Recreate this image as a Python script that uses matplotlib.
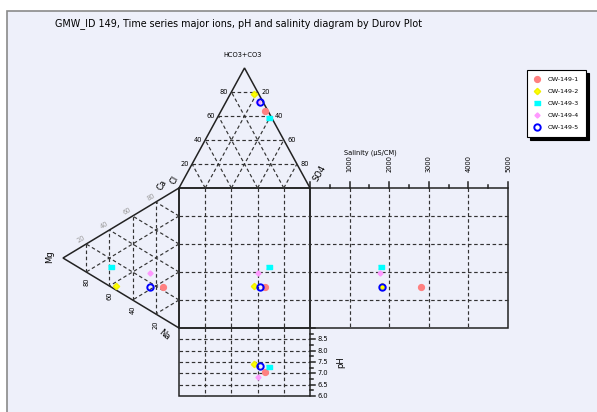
import matplotlib
matplotlib.use('Agg')
import matplotlib.pyplot as plt
from matplotlib.patches import Rectangle, Polygon

# sample data (percent of meq)
samples = ['OW-149-1', 'OW-149-2', 'OW-149-3', 'OW-149-4', 'OW-149-5']
hco3 = [64, 78, 58, 72, 72]
so4 = [34, 18, 40, 24, 26]
cl = [2, 4, 2, 4, 2]
mg = [14, 54, 59, 25, 25]
ca = [22, 3, 14, 27, 17]
na = [64, 43, 27, 48, 58]
salinity = [2800, 1830, 1800, 1780, 1818]
ph = [7.05, 7.40, 7.30, 6.85, 7.32]

sal_ticks = [1000, 2000, 3000, 4000, 5000]
ph_ticks = [6.0, 6.5, 7.0, 7.5, 8.0, 8.5]
pct_ticks = [20, 40, 60, 80]

# marker styles per sample
rect = [(-1.6, -1), (1.6, -1), (1.6, 1), (-1.6, 1)]
styles = [
    dict(marker='o', ms=4.2, mfc='#ff8080', mec='#ff8080'),
    dict(marker='D', ms=3.2, mfc='#ffff00', mec='#f0f000'),
    dict(marker=rect, ms=4.6, mfc='#00ffff', mec='#00ffff'),
    dict(marker='D', ms=2.6, mfc='#ff99ff', mec='#ff99ff'),
    dict(marker='o', ms=4.6, mfc='none', mec='#0000ff', mew=1.4),
]

# layout in pixels
X0, X1 = 179, 310        # central square
Y0, Y1 = 188, 328
APEX_Y = 68              # anion triangle apex
MG_X = 63                # cation triangle apex
XS = 508                 # salinity box right
YP = 396                 # pH box bottom
SAL_MAX = 5000
PH_MIN, PH_MAX = 6.0, 9.0
YM = (Y0 + Y1) / 2


def anion_xy(h, s, c):
    t = h + s + c
    h, s = h / t, s / t
    return X0 + (X1 - X0) * (s + h / 2), Y0 - (Y0 - APEX_Y) * h


def cation_xy(m, c, n):
    t = m + c + n
    m, c, n = m / t, c / t, n / t
    return X0 - (X0 - MG_X) * m, m * YM + c * Y0 + n * Y1


def sal_x(v):
    return X1 + (XS - X1) * v / SAL_MAX


def ph_y(v):
    return YP - (YP - Y1) * (v - PH_MIN) / (PH_MAX - PH_MIN)


fig = plt.figure(figsize=(5.97, 4.12), dpi=100)
fig.patch.set_facecolor('white')
ax = fig.add_axes([0, 0, 1, 1])
ax.set_xlim(0, 597)
ax.set_ylim(412, 0)
ax.axis('off')

ax.add_patch(Rectangle((7, 11), 620, 420, facecolor='#eef0fa', edgecolor='#8a8a8a', lw=1.2))

dash = dict(color='#333333', lw=0.85, ls=(0, (3, 2.2)))
solid = dict(color='#222222', lw=1.1)
fs = 4.8

# ---- anion triangle
for k in [0.2, 0.4, 0.6, 0.8]:
    for a, b in [((k, 0, 1 - k), (k, 1 - k, 0)),
                 ((0, k, 1 - k), (1 - k, k, 0)),
                 ((0, 1 - k, k), (1 - k, 0, k))]:
        p, q = anion_xy(*a), anion_xy(*b)
        ax.plot([p[0], q[0]], [p[1], q[1]], **dash)
tri = [anion_xy(1, 0, 0), anion_xy(0, 0, 1), anion_xy(0, 1, 0)]
ax.add_patch(Polygon(tri, closed=True, fill=False, **solid))
for v in pct_ticks:
    f = v / 100
    x, y = anion_xy(f, 0, 1 - f)
    ax.text(x - 3, y, str(v), fontsize=fs, ha='right', va='center')
    x, y = anion_xy(1 - f, f, 0)
    ax.text(x + 4, y, str(v), fontsize=fs, ha='left', va='center')
ax.text(243, 55, 'HCO3+CO3', fontsize=fs, ha='center', va='center')
ax.text(174, 180, 'Cl', fontsize=6, ha='center', va='center', rotation=60)
ax.text(320, 173, 'SO4', fontsize=6, ha='center', va='center', rotation=60)

# ---- cation triangle
for k in [0.2, 0.4, 0.6, 0.8]:
    for a, b in [((k, 0, 1 - k), (k, 1 - k, 0)),
                 ((0, k, 1 - k), (1 - k, k, 0)),
                 ((0, 1 - k, k), (1 - k, 0, k))]:
        p, q = cation_xy(*a), cation_xy(*b)
        ax.plot([p[0], q[0]], [p[1], q[1]], **dash)
tri = [cation_xy(1, 0, 0), cation_xy(0, 1, 0), cation_xy(0, 0, 1)]
ax.add_patch(Polygon(tri, closed=True, fill=False, **solid))
for v in pct_ticks:
    f = v / 100
    x, y = cation_xy(f, 0, 1 - f)
    ax.text(x, y + 6, str(v), fontsize=fs, ha='center', va='top', rotation=90)
    x, y = cation_xy(1 - f, f, 0)
    ax.text(x - 5, y - 5, str(v), fontsize=fs, ha='center', va='center',
            rotation=31, color='#999999')
ax.text(50, 257, 'Mg', fontsize=6, ha='center', va='center', rotation=90)
ax.text(162, 185, 'Ca', fontsize=6, ha='center', va='center', rotation=60)
ax.text(164, 335, 'Na', fontsize=6, ha='center', va='center', rotation=-40)

# ---- central square, salinity box, pH box
for k in range(1, 5):
    x = X0 + (X1 - X0) * k / 5
    y = Y0 + (Y1 - Y0) * k / 5
    ax.plot([x, x], [Y0, Y1], **dash)
    ax.plot([x, x], [Y1, YP], **dash)
    ax.plot([X0, XS], [y, y], **dash)
for v in sal_ticks[:-1]:
    ax.plot([sal_x(v), sal_x(v)], [Y0, Y1], **dash)
for v in ph_ticks[1:]:
    ax.plot([X0, X1], [ph_y(v), ph_y(v)], **dash)
ax.add_patch(Rectangle((X0, Y0), X1 - X0, Y1 - Y0, fill=False, **solid))
ax.add_patch(Rectangle((X1, Y0), XS - X1, Y1 - Y0, fill=False, **solid))
ax.add_patch(Rectangle((X0, Y1), X1 - X0, YP - Y1, fill=False, **solid))

# salinity axis
for v in range(0, SAL_MAX + 1, 500):
    ln = 6 if v % 1000 == 0 else 3
    ax.plot([sal_x(v), sal_x(v)], [Y0, Y0 - ln], **solid)
for v in sal_ticks:
    ax.text(sal_x(v), 172, str(v), fontsize=fs, ha='center', va='bottom', rotation=90)
ax.text(370, 153, 'Salinity (µS/CM)', fontsize=fs, ha='center', va='center')

# pH axis
v = PH_MIN
while v <= PH_MAX + 1e-9:
    ln = 5 if abs(v * 2 - round(v * 2)) < 1e-9 else 3
    ax.plot([X1, X1 + ln], [ph_y(v), ph_y(v)], **solid)
    v += 0.25
for v in ph_ticks:
    ax.text(X1 + 7, ph_y(v), f'{v:.1f}', fontsize=fs, ha='left', va='center')
ax.text(341, 362, 'pH', fontsize=6, ha='center', va='center', rotation=90)

# ---- samples
handles = []
for i, name in enumerate(samples):
    ax_, ay_ = anion_xy(hco3[i], so4[i], cl[i])
    cx_, cy_ = cation_xy(mg[i], ca[i], na[i])
    xs = [ax_, cx_, ax_, sal_x(salinity[i]), ax_]
    ys = [ay_, cy_, cy_, cy_, ph_y(ph[i])]
    h, = ax.plot(xs, ys, ls='none', zorder=5, label=name, **styles[i])
    handles.append(h)

ax.text(55, 24, 'GMW_ID 149, Time series major ions, pH and salinity diagram by Durov Plot',
        fontsize=6.9, ha='left', va='center')

leg = ax.legend(handles=handles, loc='upper left', bbox_to_anchor=(527 / 597, 1 - 70 / 412),
                fontsize=4.5, frameon=True, fancybox=False, edgecolor='black',
                facecolor='white', framealpha=1, handlelength=1.0, handletextpad=1.2,
                labelspacing=1.05, borderpad=1.1, borderaxespad=0,
                shadow={'color': 'black', 'alpha': 1.0})
leg.get_frame().set_linewidth(0.8)

fig.savefig('out.png', dpi=100)
